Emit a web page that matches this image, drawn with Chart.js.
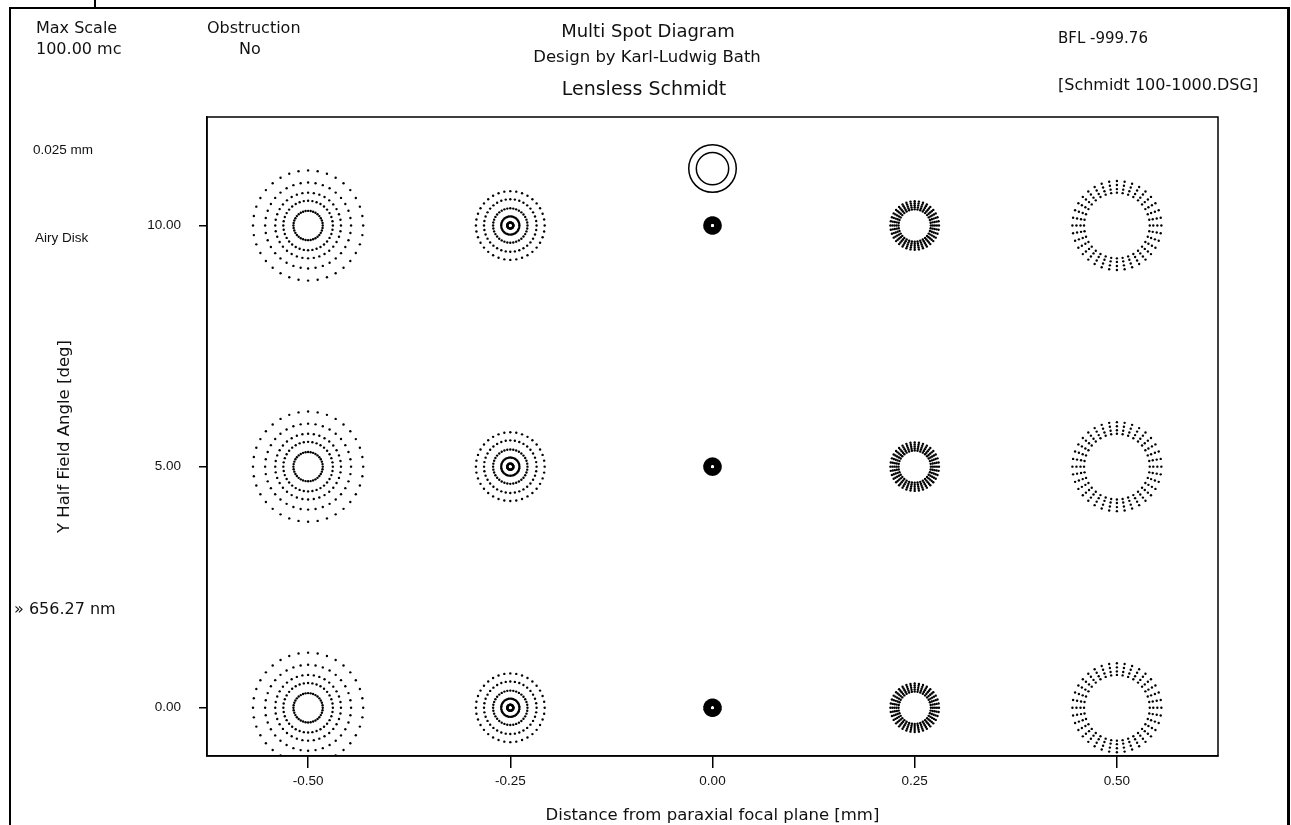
<!DOCTYPE html>
<html>
<head>
<meta charset="utf-8">
<script src="https://cdn.jsdelivr.net/npm/chart.js@4.4.1/dist/chart.umd.min.js"></script>
<style>
  body { margin: 0; background: #fff; }
  #wrap { position: relative; width: 1291px; height: 825px; overflow: hidden; font-family: "DejaVu Sans", sans-serif; color: #111; }
  #spots { position: absolute; left: 0; top: 0; }
  .t { position: absolute; white-space: nowrap; font-size: 16px; line-height: 20px; }
  .s { font-family: "Liberation Sans", Arial, sans-serif; font-size: 13.5px; }
  .c { transform: translateX(-50%); text-align: center; }
  .frame { position: absolute; border-color: #000; border-style: solid; border-width: 0; }
</style>
</head>
<body>
<div id="wrap">
  <canvas id="spots" width="1291" height="825"></canvas>

  <div class="frame" style="left:9px;top:7px;width:1276px;height:830px;border-width:2px 3px 0 2px;"></div>
  <div class="frame" style="left:94px;top:0;width:0;height:8px;border-left-width:2px;"></div>

  <div class="t" style="left:36px;top:18px;">Max Scale</div>
  <div class="t" style="left:36px;top:39px;">100.00 mc</div>
  <div class="t" style="left:207px;top:18px;">Obstruction</div>
  <div class="t" style="left:239px;top:39px;">No</div>
  <div class="t c" style="left:648px;top:20px;font-size:18px;line-height:22px;">Multi Spot Diagram</div>
  <div class="t c" style="left:647px;top:47px;font-size:16.5px;">Design by Karl-Ludwig Bath</div>
  <div class="t c" style="left:644px;top:76px;font-size:19px;line-height:24px;">Lensless Schmidt</div>
  <div class="t" style="left:1058px;top:28px;font-size:15px;">BFL -999.76</div>
  <div class="t" style="left:1058px;top:75px;">[Schmidt 100-1000.DSG]</div>
  <div class="t s" style="left:33px;top:140px;">0.025 mm</div>
  <div class="t s" style="left:35px;top:228px;">Airy Disk</div>
  <div class="t" style="left:14px;top:599px;">» 656.27 nm</div>
</div>

<script>
// focus positions (mm) and field angles (deg) of the spot grid
const focusShifts = [-0.5, -0.25, 0, 0.25, 0.5];
const fieldAngles = [0, 5, 10];
const xTickValues = [-0.5, -0.25, 0, 0.25, 0.5];
const yTickValues = [0, 5, 10];

// ring radii of each spot in microns, one list per focus column
const ringRadiiUm = [
  [7.25, 12.25, 16.25, 21.25, 27.25],
  [1.5, 4.5, 8.5, 13, 17],
  [1.5, 2.5, 3.25, 4],
  [8, 9, 10, 11, 12],
  [16.25, 18, 20, 22]
];
const raysPerRing = 36;

// reference Airy disk circles (microns) and where they sit
const airyRadiiUm = [8, 11.75];
const airyCenter = { x: 0, y: 11.18 };

// one spot box spans 0.25 mm on the axis and shows "Max Scale" microns
const maxScaleUm = 100;
const cellWidth = 0.25;

const xRange = { min: -0.625, max: 0.625 };
const yRange = { min: -1, max: 12.25 };

const fmt = (v) => Number(v).toFixed(2);
const tickFont = { family: 'Liberation Sans', size: 13.5 };

const plotFrame = {
  id: 'plotFrame',
  afterDraw(chart) {
    const { ctx, chartArea: a } = chart;
    ctx.save();
    ctx.strokeStyle = '#000';
    ctx.lineWidth = 1.5;
    ctx.strokeRect(a.left, a.top, a.right - a.left, a.bottom - a.top);
    ctx.restore();
  },
};

function spotDots(pxPerUm, pxPerX, pxPerY) {
  const dots = [];
  fieldAngles.forEach((field) => {
    focusShifts.forEach((shift, col) => {
      ringRadiiUm[col].forEach((r) => {
        for (let k = 0; k < raysPerRing; k++) {
          const ang = (k / raysPerRing) * Math.PI * 2;
          dots.push({
            x: shift + (r * pxPerUm * Math.cos(ang)) / pxPerX,
            y: field + (r * pxPerUm * Math.sin(ang)) / pxPerY,
          });
        }
      });
    });
  });
  return dots;
}

const ctx = document.getElementById('spots').getContext('2d');

const chart = new Chart(ctx, {
  type: 'scatter',
  data: {
    datasets: [
      {
        label: 'spots',
        data: [],
        pointRadius: 1.2,
        pointHoverRadius: 1.2,
        borderWidth: 0,
        backgroundColor: '#000',
      },
      {
        label: 'Airy disk',
        data: airyRadiiUm.map(() => ({ x: airyCenter.x, y: airyCenter.y })),
        pointStyle: 'circle',
        pointRadius: [],
        backgroundColor: 'rgba(0,0,0,0)',
        borderColor: '#000',
        borderWidth: 1.5,
      },
    ],
  },
  options: {
    responsive: false,
    animation: false,
    events: [],
    layout: { padding: { left: 48, right: 73, top: 117, bottom: 0 } },
    plugins: {
      legend: { display: false },
      tooltip: { enabled: false },
    },
    scales: {
      x: {
        type: 'linear',
        min: xRange.min,
        max: xRange.max,
        afterBuildTicks: (s) => { s.ticks = xTickValues.map((v) => ({ value: v })); },
        afterFit: (s) => { s.height = 69; },
        ticks: {
          callback: fmt,
          color: '#111',
          padding: 5,
          maxRotation: 0,
          font: tickFont,
        },
        grid: { drawOnChartArea: false, tickLength: 12, color: '#000', lineWidth: 1.5 },
        border: { color: '#000', width: 1.5 },
        title: {
          display: true,
          text: 'Distance from paraxial focal plane [mm]',
          color: '#111',
          padding: { top: 0, bottom: -1 },
          font: { family: 'DejaVu Sans', size: 16.5 },
        },
      },
      y: {
        type: 'linear',
        min: yRange.min,
        max: yRange.max,
        afterBuildTicks: (s) => { s.ticks = yTickValues.map((v) => ({ value: v })); },
        afterFit: (s) => { s.width = 159; },
        ticks: {
          callback: fmt,
          color: '#111',
          padding: 18,
          font: tickFont,
        },
        grid: { drawOnChartArea: false, tickLength: 8, color: '#000', lineWidth: 1.5 },
        border: { color: '#000', width: 1.5 },
        title: {
          display: true,
          text: 'Y Half Field Angle [deg]',
          color: '#111',
          padding: { top: 7, bottom: 0 },
          font: { family: 'DejaVu Sans', size: 16.5 },
        },
      },
    },
  },
  plugins: [plotFrame],
});

// the spot rings are given in microns, so place them once the axes exist
const area = chart.chartArea;
const pxPerX = (area.right - area.left) / (xRange.max - xRange.min);
const pxPerY = (area.bottom - area.top) / (yRange.max - yRange.min);
const pxPerUm = (pxPerX * cellWidth) / maxScaleUm;

chart.data.datasets[0].data = spotDots(pxPerUm, pxPerX, pxPerY);
chart.data.datasets[1].pointRadius = airyRadiiUm.map((r) => r * pxPerUm);
chart.update('none');
</script>
</body>
</html>
